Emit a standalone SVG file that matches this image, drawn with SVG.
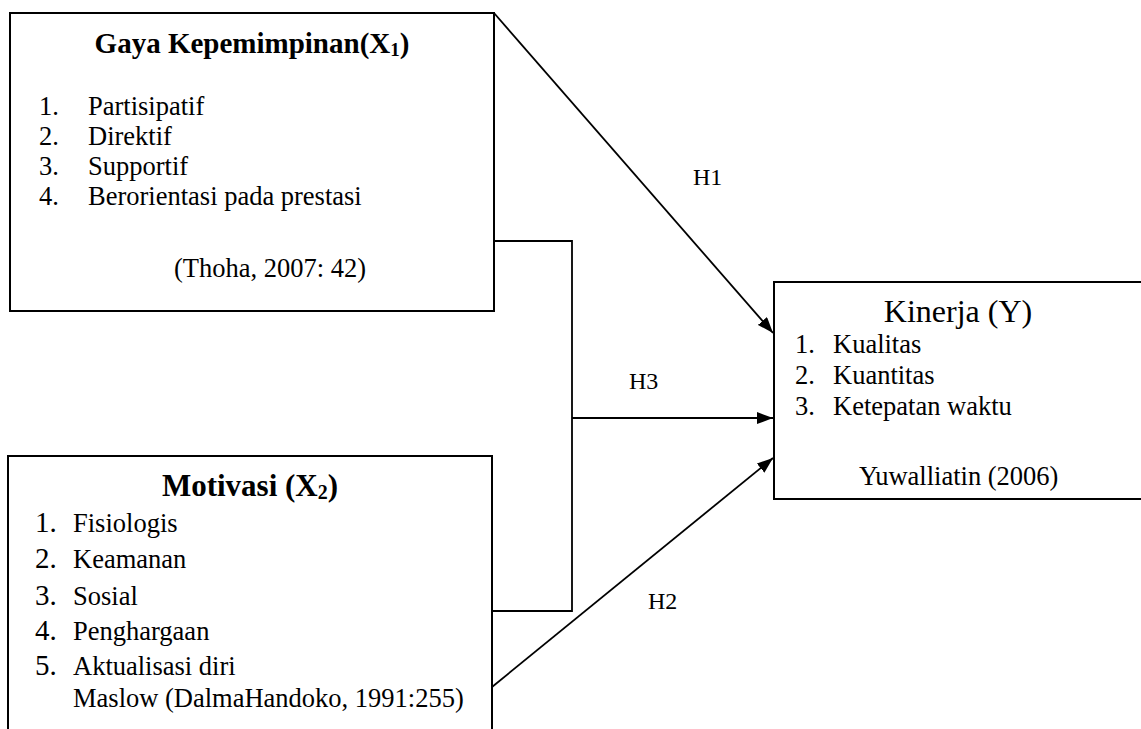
<svg xmlns="http://www.w3.org/2000/svg" width="1141" height="729" viewBox="0 0 1141 729">
<defs>
<style>
.box{fill:#fff;stroke:#000;stroke-width:2}
.t{font-family:"Liberation Serif","Times New Roman",serif;fill:#000}
.b{font-weight:bold}
.conn{fill:none;stroke:#000;stroke-width:1.8}
</style>
<marker id="arr" viewBox="0 0 16 12" refX="16" refY="6" markerWidth="16" markerHeight="12" orient="auto" markerUnits="userSpaceOnUse">
<path d="M0,0 L16,6 L0,12 z" fill="#000"/>
</marker>
</defs>
<rect width="1141" height="729" fill="#fff"/>

<g id="connectors">
<line class="conn" x1="494" y1="13" x2="773" y2="333" marker-end="url(#arr)"/>
<polyline class="conn" points="494,241 572,241 572,611 492,611"/>
<line class="conn" x1="572" y1="418" x2="773" y2="418" marker-end="url(#arr)"/>
<line class="conn" x1="492" y1="687" x2="773" y2="458" marker-end="url(#arr)"/>
<text class="t" x="693" y="185" font-size="24">H1</text>
<text class="t" x="629" y="389" font-size="24">H3</text>
<text class="t" x="648" y="609" font-size="24">H2</text>
</g>

<g id="node-gaya">
<rect class="box" x="10" y="13" width="484" height="298"/>
<text class="t b" x="252" y="53" font-size="29" text-anchor="middle">Gaya Kepemimpinan(X<tspan font-size="19" dy="3">1</tspan><tspan dy="-3">)</tspan></text>
<g class="t" font-size="26.5">
<text x="39" y="115">1.</text><text x="88" y="115">Partisipatif</text>
<text x="39" y="145">2.</text><text x="88" y="145">Direktif</text>
<text x="39" y="175">3.</text><text x="88" y="175">Supportif</text>
<text x="39" y="205">4.</text><text x="88" y="205">Berorientasi pada prestasi</text>
<text x="174" y="277">(Thoha, 2007: 42)</text>
</g>
</g>

<g id="node-motivasi">
<rect class="box" x="8" y="456" width="484" height="290"/>
<text class="t b" x="250" y="496" font-size="31" text-anchor="middle">Motivasi (X<tspan font-size="20" dy="3">2</tspan><tspan dy="-3">)</tspan></text>
<g class="t" font-size="29">
<text x="35" y="532">1.</text>
<text x="35" y="568">2.</text>
<text x="35" y="605">3.</text>
<text x="35" y="640">4.</text>
<text x="35" y="675">5.</text>
</g>
<g class="t" font-size="26.5">
<text x="73" y="532">Fisiologis</text>
<text x="73" y="568">Keamanan</text>
<text x="73" y="605">Sosial</text>
<text x="73" y="640">Penghargaan</text>
<text x="73" y="675">Aktualisasi diri</text>
<text x="73" y="707">Maslow (DalmaHandoko, 1991:255)</text>
</g>
</g>

<g id="node-kinerja">
<rect class="box" x="774" y="282" width="380" height="217"/>
<text class="t" x="958" y="322" font-size="32" text-anchor="middle">Kinerja (Y)</text>
<g class="t" font-size="26.5">
<text x="795" y="353">1.</text><text x="833" y="353">Kualitas</text>
<text x="795" y="384">2.</text><text x="833" y="384">Kuantitas</text>
<text x="795" y="415">3.</text><text x="833" y="415">Ketepatan waktu</text>
<text x="859" y="485">Yuwalliatin (2006)</text>
</g>
</g>
</svg>
